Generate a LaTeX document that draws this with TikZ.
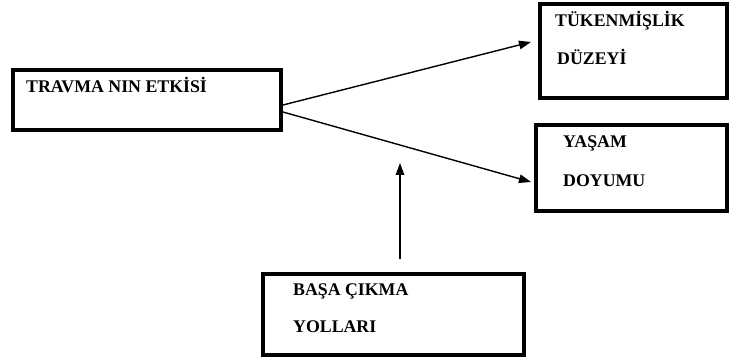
\documentclass[tikz,border=0pt]{standalone}
\usepackage{fontspec}
\setmainfont{Liberation Serif}
\usetikzlibrary{arrows.meta}
\begin{document}
\begin{tikzpicture}[x=1pt,y=-1pt,
  box/.style={draw, line width=4pt, rectangle, inner sep=0pt},
  lbl/.style={anchor=base west, inner sep=0pt, font=\fontsize{17.8}{21}\selectfont\bfseries},
  arr/.style={line width=1.4pt, -{Triangle[length=12pt,width=8.5pt]}}]
\useasboundingbox (0,0) rectangle (729,358);
\node[box, minimum width=187pt, minimum height=94pt] (b2) at (633,51) {};
\node[box, minimum width=268pt, minimum height=60pt] (b1) at (147,100) {};
\node[box, minimum width=191pt, minimum height=86pt] (b3) at (631,168) {};
\node[box, minimum width=261pt, minimum height=81pt] (b4) at (393.5,314.5) {};
\node[lbl] (t1) at (26,93) {TRAVMA NIN ETKİSİ};
\node[lbl] (t2) at (555,27) {TÜKENMİŞLİK};
\node[lbl] (t3) at (557,65) {DÜZEYİ};
\node[lbl] (t4) at (563,148) {YAŞAM};
\node[lbl] (t5) at (563,187) {DOYUMU};
\node[lbl] (t6) at (293,296) {BAŞA ÇIKMA};
\node[lbl] (t7) at (293,333) {YOLLARI};
\coordinate (s1) at ([yshift=-5pt]b1.east);
\coordinate (s2) at ([yshift=-12pt]b1.east);
\coordinate (e1) at (531,42);
\coordinate (e2) at (531,182);
\coordinate (s3) at (400,259);
\coordinate (e3) at (400,163);
\draw[arr] (s1) -- (e1);
\draw[arr] (s2) -- (e2);
\draw[arr] (s3) -- (e3);
\end{tikzpicture}
\end{document}
